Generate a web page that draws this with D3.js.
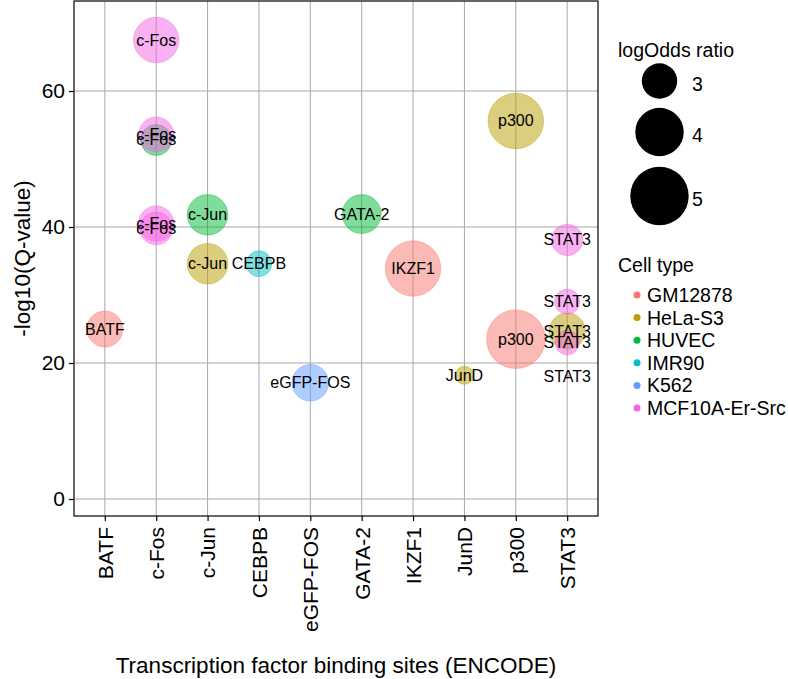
<!DOCTYPE html>
<html>
<head>
<meta charset="utf-8">
<script src="https://cdn.jsdelivr.net/npm/d3@7/dist/d3.min.js"></script>
<style>
  html, body { margin: 0; padding: 0; background: #fff; }
  svg { display: block; }
  text { font-family: "Liberation Sans", Arial, Helvetica, sans-serif; fill: #000; }
</style>
</head>
<body>
<svg id="chart" width="788" height="679"></svg>
<script>
// ---- data ----
const factors = ["BATF", "c-Fos", "c-Jun", "CEBPB", "eGFP-FOS", "GATA-2", "IKZF1", "JunD", "p300", "STAT3"];
const cellTypes = ["GM12878", "HeLa-S3", "HUVEC", "IMR90", "K562", "MCF10A-Er-Src"];
const cellColors = ["#F8766D", "#B79F00", "#00BA38", "#00BFC4", "#619CFF", "#F564E3"];

const pointFactor = ["BATF", "IKZF1", "p300", "c-Jun", "JunD", "p300", "STAT3", "c-Fos", "c-Jun", "GATA-2",
                     "CEBPB", "eGFP-FOS", "c-Fos", "c-Fos", "c-Fos", "c-Fos", "STAT3", "STAT3", "STAT3", "STAT3"];
const pointCell = ["GM12878", "GM12878", "GM12878", "HeLa-S3", "HeLa-S3", "HeLa-S3", "HeLa-S3", "HUVEC", "HUVEC", "HUVEC",
                   "IMR90", "K562", "MCF10A-Er-Src", "MCF10A-Er-Src", "MCF10A-Er-Src", "MCF10A-Er-Src",
                   "MCF10A-Er-Src", "MCF10A-Er-Src", "MCF10A-Er-Src", "MCF10A-Er-Src"];
const pointQ = [25.0, 33.9, 23.5, 34.6, 18.2, 55.6, 24.7, 52.8, 41.8, 41.9,
                34.6, 17.1, 67.5, 53.6, 40.5, 39.8, 38.1, 29.0, 23.0, 18.0];
const pointLogOdds = [3.04, 4.68, 5.02, 3.36, 2.20, 4.70, 3.05, 2.74, 3.36, 3.24,
                      2.48, 3.08, 3.74, 2.97, 3.00, 2.85, 2.76, 2.45, 2.42, 2.00];

const yTicks = [0, 20, 40, 60];
const sizeLegendValues = [3, 4, 5];

const points = pointFactor.map((f, i) => ({ f, cell: pointCell[i], q: pointQ[i], lo: pointLogOdds[i] }));

// ---- layout ----
const svg = d3.select("#chart");
const panel = { left: 74, right: 598, top: 1, bottom: 516 };

const x = d3.scalePoint().domain(factors).range([panel.left, panel.right]).padding(0.6);
const y = d3.scaleLinear().domain([-2.5, 73.24]).range([panel.bottom, panel.top]);
const color = d3.scaleOrdinal().domain(cellTypes).range(cellColors);

const loMin = d3.min(pointLogOdds), loMax = d3.max(pointLogOdds);
const rLin = d3.scaleLinear().domain([0, Math.sqrt(loMax - loMin)]).range([2, 29.3]);
const radius = v => rLin(Math.sqrt(Math.max(0, v - loMin)));

const FONT = "'Liberation Sans', Arial, Helvetica, sans-serif";

// panel background + grid
const g = svg.append("g");
g.append("rect").attr("x", panel.left).attr("y", panel.top)
  .attr("width", panel.right - panel.left).attr("height", panel.bottom - panel.top)
  .attr("fill", "#fff");

g.selectAll("line.gy").data(yTicks).join("line").attr("class", "gy")
  .attr("x1", panel.left).attr("x2", panel.right)
  .attr("y1", d => y(d)).attr("y2", d => y(d))
  .attr("stroke", "#a8a8a8").attr("stroke-width", 1);
g.selectAll("line.gx").data(factors).join("line").attr("class", "gx")
  .attr("y1", panel.top).attr("y2", panel.bottom)
  .attr("x1", d => x(d)).attr("x2", d => x(d))
  .attr("stroke", "#a8a8a8").attr("stroke-width", 1);

// points
g.selectAll("circle.pt").data(points).join("circle").attr("class", "pt")
  .attr("cx", d => x(d.f)).attr("cy", d => y(d.q)).attr("r", d => radius(d.lo))
  .attr("fill", d => color(d.cell)).attr("fill-opacity", 0.5)
  .attr("stroke", d => color(d.cell)).attr("stroke-opacity", 0.4).attr("stroke-width", 1);

// labels
g.selectAll("text.pl").data(points).join("text").attr("class", "pl")
  .attr("x", d => x(d.f)).attr("y", d => y(d.q))
  .attr("text-anchor", "middle").attr("dominant-baseline", "central")
  .attr("font-size", 16).text(d => d.f);

// panel border
g.append("rect").attr("x", panel.left).attr("y", panel.top)
  .attr("width", panel.right - panel.left).attr("height", panel.bottom - panel.top)
  .attr("fill", "none").attr("stroke", "#000").attr("stroke-width", 1.2);

// axes
const yAxis = d3.axisLeft(y).tickValues(yTicks).tickSize(5).tickPadding(4);
const ya = svg.append("g").attr("transform", `translate(${panel.left},0)`).call(yAxis);
ya.select(".domain").remove();
ya.selectAll(".tick line").attr("stroke", "#000").attr("stroke-width", 1.2);
ya.selectAll(".tick text").attr("font-size", 21).attr("fill", "#000").style("font-family", FONT);

const xAxis = d3.axisBottom(x).tickSize(5).tickPadding(4);
const xa = svg.append("g").attr("transform", `translate(0,${panel.bottom})`).call(xAxis);
xa.select(".domain").remove();
xa.selectAll(".tick line").attr("stroke", "#000").attr("stroke-width", 1.2);
xa.selectAll(".tick text")
  .attr("font-size", 21).attr("fill", "#000").style("font-family", FONT)
  .attr("transform", "rotate(-90)")
  .attr("x", -11).attr("y", 0).attr("dy", "0.35em")
  .attr("text-anchor", "end");

// axis titles
svg.append("text").attr("transform", `translate(22,${(panel.top + panel.bottom) / 2}) rotate(-90)`)
  .attr("text-anchor", "middle").attr("dominant-baseline", "central")
  .attr("font-size", 22.5).text("-log10(Q-value)");
svg.append("text").attr("x", (panel.left + panel.right) / 2).attr("y", 665)
  .attr("text-anchor", "middle").attr("dominant-baseline", "central")
  .attr("font-size", 22.5).text("Transcription factor binding sites (ENCODE)");

// size legend
const lg = svg.append("g");
lg.append("text").attr("x", 618).attr("y", 50).attr("dominant-baseline", "central")
  .attr("font-size", 19.5).text("logOdds ratio");
const sizeY = [81, 132, 196];
lg.selectAll("circle.sl").data(sizeLegendValues).join("circle").attr("class", "sl")
  .attr("cx", 659.5).attr("cy", (d, i) => sizeY[i]).attr("r", d => radius(d))
  .attr("fill", "#000");
lg.selectAll("text.sl").data(sizeLegendValues).join("text").attr("class", "sl")
  .attr("x", 692).attr("y", (d, i) => sizeY[i] + 3).attr("dominant-baseline", "central")
  .attr("font-size", 19.5).text(d => d);

// colour legend
lg.append("text").attr("x", 618).attr("y", 265).attr("dominant-baseline", "central")
  .attr("font-size", 19.5).text("Cell type");
lg.selectAll("circle.cl").data(cellTypes).join("circle").attr("class", "cl")
  .attr("cx", 637).attr("cy", (d, i) => 295 + i * 22.6).attr("r", 3.5)
  .attr("fill", d => color(d));
lg.selectAll("text.cl").data(cellTypes).join("text").attr("class", "cl")
  .attr("x", 647).attr("y", (d, i) => 295 + i * 22.6).attr("dominant-baseline", "central")
  .attr("font-size", 19.5).text(d => d);
</script>
</body>
</html>
